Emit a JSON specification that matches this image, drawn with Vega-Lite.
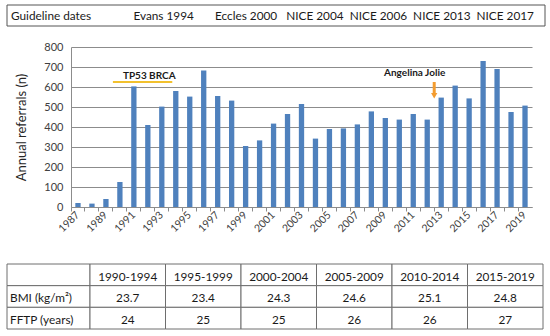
{
  "$schema": "https://vega.github.io/schema/vega-lite/v6.json",
  "background": "white",
  "padding": {"left": 6, "top": 4, "right": 0, "bottom": 0},
  "config": {
    "font": "Lato",
    "view": {"stroke": null},
    "axis": {"labelFont": "Lato", "titleFont": "Lato"}
  },
  "datasets": {
    "referrals": [
      {"year": 1987, "n": 20}, {"year": 1988, "n": 17}, {"year": 1989, "n": 40},
      {"year": 1990, "n": 125}, {"year": 1991, "n": 603}, {"year": 1992, "n": 410},
      {"year": 1993, "n": 502}, {"year": 1994, "n": 580}, {"year": 1995, "n": 552},
      {"year": 1996, "n": 682}, {"year": 1997, "n": 555}, {"year": 1998, "n": 532},
      {"year": 1999, "n": 305}, {"year": 2000, "n": 333}, {"year": 2001, "n": 417},
      {"year": 2002, "n": 465}, {"year": 2003, "n": 515}, {"year": 2004, "n": 342},
      {"year": 2005, "n": 390}, {"year": 2006, "n": 393}, {"year": 2007, "n": 413},
      {"year": 2008, "n": 478}, {"year": 2009, "n": 445}, {"year": 2010, "n": 437},
      {"year": 2011, "n": 465}, {"year": 2012, "n": 437}, {"year": 2013, "n": 547},
      {"year": 2014, "n": 607}, {"year": 2015, "n": 543}, {"year": 2016, "n": 730},
      {"year": 2017, "n": 690}, {"year": 2018, "n": 475}, {"year": 2019, "n": 507}
    ],
    "guidelines": [
      {"box": "g", "text": "Guideline dates\u00a0\u00a0\u00a0\u00a0\u00a0\u00a0\u00a0\u00a0\u00a0\u00a0\u00a0\u00a0\u00a0\u00a0Evans 1994\u00a0\u00a0\u00a0\u00a0\u00a0\u00a0\u00a0Eccles 2000\u00a0\u00a0\u00a0NICE 2004\u00a0\u00a0NICE 2006\u00a0\u00a0NICE 2013\u00a0\u00a0NICE 2017"}
    ],
    "tp53": [{"year": 1990, "year2": 1994, "n": 625}],
    "notes": [
      {"label": "TP53 BRCA", "year": 1992, "n": 657, "style": "italic"},
      {"label": "Angelina Jolie", "year": 2011, "n": 670, "style": "normal"}
    ],
    "jolie": [{"year": 2013, "n": 625, "n2": 566, "head": 556}],
    "rowlabels": [
      {"row": "head", "col": "label", "text": ""},
      {"row": "BMI", "col": "label", "text": "BMI (kg/m²)"},
      {"row": "FFTP", "col": "label", "text": "FFTP (years)"}
    ],
    "cells": [
      {"row": "head", "col": "1990-1994", "text": "1990-1994"},
      {"row": "head", "col": "1995-1999", "text": "1995-1999"},
      {"row": "head", "col": "2000-2004", "text": "2000-2004"},
      {"row": "head", "col": "2005-2009", "text": "2005-2009"},
      {"row": "head", "col": "2010-2014", "text": "2010-2014"},
      {"row": "head", "col": "2015-2019", "text": "2015-2019"},
      {"row": "BMI", "col": "1990-1994", "text": "23.7"},
      {"row": "BMI", "col": "1995-1999", "text": "23.4"},
      {"row": "BMI", "col": "2000-2004", "text": "24.3"},
      {"row": "BMI", "col": "2005-2009", "text": "24.6"},
      {"row": "BMI", "col": "2010-2014", "text": "25.1"},
      {"row": "BMI", "col": "2015-2019", "text": "24.8"},
      {"row": "FFTP", "col": "1990-1994", "text": "24"},
      {"row": "FFTP", "col": "1995-1999", "text": "25"},
      {"row": "FFTP", "col": "2000-2004", "text": "25"},
      {"row": "FFTP", "col": "2005-2009", "text": "26"},
      {"row": "FFTP", "col": "2010-2014", "text": "26"},
      {"row": "FFTP", "col": "2015-2019", "text": "27"}
    ]
  },
  "columns": 1,
  "align": "none",
  "bounds": "full",
  "spacing": 14,
  "concat": [
    {
      "width": 538,
      "height": 21,
      "data": {"name": "guidelines"},
      "layer": [
        {
          "mark": {"type": "rect", "fill": "white", "stroke": "#555555", "strokeWidth": 1},
          "encoding": {
            "x": {"field": "box", "type": "nominal", "axis": null, "scale": {"paddingInner": 0, "paddingOuter": 0}}
          }
        },
        {
          "mark": {"type": "text", "align": "left", "baseline": "middle", "fontSize": 11.8, "color": "#1a1a1a", "dx": 4, "limit": 530},
          "encoding": {
            "x": {"field": "box", "type": "nominal", "axis": null, "bandPosition": 0},
            "text": {"field": "text"}
          }
        }
      ]
    },
    {
      "columns": 1,
      "align": "none",
      "bounds": "full",
      "spacing": 28,
      "concat": [
        {
          "width": 525,
          "height": 160,
          "resolve": {"axis": {"x": "independent", "y": "independent"}},
          "layer": [
            {
              "data": {"name": "referrals"},
              "mark": {"type": "bar", "width": {"band": 0.38}, "color": "#4F81BD"},
              "encoding": {
                "x": {
                  "field": "year", "type": "ordinal",
                  "scale": {"paddingInner": 0, "paddingOuter": 0, "range": [64, 525]},
                  "axis": {
                    "orient": "bottom", "title": null, "labels": false, "ticks": true,
                    "bandPosition": 0, "tickSize": 4, "tickColor": "#8c8c8c",
                    "domainColor": "#8c8c8c", "grid": false
                  }
                },
                "y": {
                  "field": "n", "type": "quantitative",
                  "scale": {"domain": [0, 800]},
                  "axis": {
                    "orient": "left", "offset": -64,
                    "title": "Annual referrals (n)", "values": [0, 100, 200, 300, 400, 500, 600, 700, 800],
                    "labelOverlap": false,
                    "grid": true, "gridColor": "#8c8c8c", "domainColor": "#8c8c8c", "ticks": false,
                    "labelPadding": 8, "labelFontSize": 11, "labelColor": "#404040",
                    "titleFontSize": 13, "titleFontWeight": "normal", "titleColor": "#262626", "titlePadding": 15
                  }
                }
              }
            },
            {
              "data": {"name": "tp53"},
              "mark": {"type": "rule", "color": "#F2C12E", "strokeWidth": 2},
              "encoding": {
                "x": {
                  "field": "year", "type": "ordinal", "bandPosition": 0,
                  "axis": {
                    "orient": "bottom", "title": null, "ticks": false, "domain": false, "grid": false,
                    "labelAngle": -45, "labelAlign": "right", "labelBaseline": "middle",
                    "labelPadding": 6, "labelFontSize": 10.5, "labelColor": "#404040",
                    "labelExpr": "datum.value % 2 == 1 ? datum.label : ''"
                  }
                },
                "x2": {"field": "year2", "bandPosition": 0.25},
                "y": {"field": "n", "type": "quantitative", "axis": null}
              }
            },
            {
              "data": {"name": "notes"},
              "mark": {"type": "text", "fontWeight": "bold", "fontSize": 10, "color": "#1a1a1a", "baseline": "middle"},
              "encoding": {
                "x": {"field": "year", "type": "ordinal", "bandPosition": 0.6, "axis": null},
                "y": {"field": "n", "type": "quantitative", "axis": null},
                "text": {"field": "label"},
                "fontStyle": {"field": "style", "type": "nominal", "scale": null, "legend": null}
              }
            },
            {
              "data": {"name": "jolie"},
              "mark": {"type": "rule", "color": "#F39C30", "strokeWidth": 3},
              "encoding": {
                "x": {"field": "year", "type": "ordinal", "bandPosition": 0, "axis": null},
                "y": {"field": "n", "type": "quantitative", "axis": null},
                "y2": {"field": "n2"}
              }
            },
            {
              "data": {"name": "jolie"},
              "mark": {"type": "point", "shape": "triangle-down", "filled": true, "color": "#F39C30", "size": 40, "opacity": 1},
              "encoding": {
                "x": {"field": "year", "type": "ordinal", "bandPosition": 0, "axis": null},
                "y": {"field": "head", "type": "quantitative", "axis": null}
              }
            }
          ]
        },
        {
          "spacing": 0,
          "bounds": "flush",
          "hconcat": [
            {
              "width": 83,
              "height": 65,
              "data": {"name": "rowlabels"},
              "layer": [
                {
                  "mark": {"type": "rect", "fill": "white", "stroke": "#6e6e6e", "strokeWidth": 1},
                  "encoding": {
                    "x": {"field": "col", "type": "nominal", "axis": null, "scale": {"paddingInner": 0, "paddingOuter": 0}},
                    "y": {"field": "row", "type": "nominal", "sort": ["head", "BMI", "FFTP"], "axis": null,
                          "scale": {"paddingInner": 0, "paddingOuter": 0}}
                  }
                },
                {
                  "mark": {"type": "text", "align": "left", "baseline": "middle", "dx": 3, "fontSize": 11.8, "color": "#1a1a1a"},
                  "encoding": {
                    "x": {"field": "col", "type": "nominal", "axis": null, "bandPosition": 0},
                    "y": {"field": "row", "type": "nominal", "sort": ["head", "BMI", "FFTP"], "axis": null, "bandPosition": 0.58},
                    "text": {"field": "text"}
                  }
                }
              ]
            },
            {
              "width": 453,
              "height": 65,
              "data": {"name": "cells"},
              "layer": [
                {
                  "mark": {"type": "rect", "fill": "white", "stroke": "#6e6e6e", "strokeWidth": 1},
                  "encoding": {
                    "x": {"field": "col", "type": "nominal", "axis": null, "scale": {"paddingInner": 0, "paddingOuter": 0}},
                    "y": {"field": "row", "type": "nominal", "sort": ["head", "BMI", "FFTP"], "axis": null,
                          "scale": {"paddingInner": 0, "paddingOuter": 0}}
                  }
                },
                {
                  "mark": {"type": "text", "align": "center", "baseline": "middle", "fontSize": 11.8, "color": "#1a1a1a"},
                  "encoding": {
                    "x": {"field": "col", "type": "nominal", "axis": null},
                    "y": {"field": "row", "type": "nominal", "sort": ["head", "BMI", "FFTP"], "axis": null, "bandPosition": 0.58},
                    "text": {"field": "text"}
                  }
                }
              ]
            }
          ]
        }
      ]
    }
  ]
}
